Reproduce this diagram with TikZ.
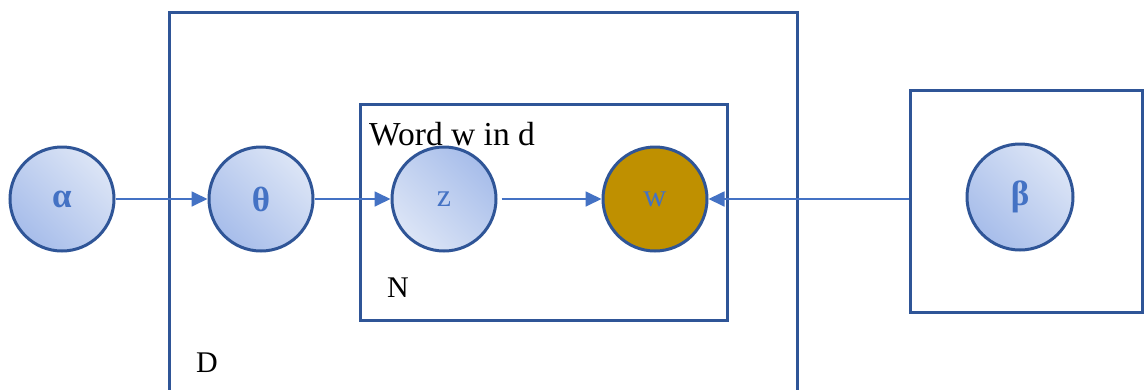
\documentclass[tikz,border=0pt]{standalone}
\usepackage{fontspec}
\setmainfont{Liberation Serif}
\usetikzlibrary{arrows.meta}
\definecolor{boxblue}{HTML}{2F5597}
\definecolor{arrblue}{HTML}{4472C4}
\definecolor{lightfill}{HTML}{DCE5F6}
\definecolor{darkfill}{HTML}{A7BDEA}
\definecolor{gold}{HTML}{BF9000}
\tikzset{
  plate/.style={draw=boxblue, line width=3pt},
  var/.style={circle, draw=boxblue, line width=3pt, minimum size=104pt, inner sep=0pt,
    text=arrblue, font=\fontsize{35}{38}\selectfont\bfseries},
  litevar/.style={var, shading=axis, top color=lightfill, bottom color=darkfill, shading angle=-45},
  revvar/.style={var, shading=axis, top color=darkfill, bottom color=lightfill, shading angle=-45},
  obsvar/.style={var, fill=gold, font=\fontsize{32}{36}\selectfont},
  conn/.style={draw=arrblue, line width=1.8pt, -{Triangle[length=16pt,width=15pt]}},
  lbl/.style={inner sep=0pt, anchor=base west, text=black}
}
\begin{document}
\begin{tikzpicture}[x=1pt,y=-1pt]
\useasboundingbox (0,0) rectangle (1144,389);
% outer D plate (open at bottom)
\draw[plate] (169,395) -- (169,12.5) -- (797,12.5) -- (797,395);
% inner N plate
\node[plate, minimum width=367pt, minimum height=216pt, inner sep=0pt] (nplate) at (543.5,212) {};
% beta plate
\node[plate, minimum width=232pt, minimum height=222pt, inner sep=0pt] (bplate) at (1026,201) {};
% labels
\node[lbl, font=\fontsize{33.5}{38}\selectfont] (wordlbl) at (369,145) {Word w in d};
\node[lbl, font=\fontsize{30}{34}\selectfont] (nlbl) at (387,297) {N};
\node[lbl, font=\fontsize{30}{34}\selectfont] (dlbl) at (196,372) {D};
% variables
\node[litevar] (alpha) at (62,199) {α};
\node[litevar] (theta) at (261,199) {θ};
\node[revvar, font=\fontsize{32}{36}\selectfont] (z) at (444,199) {z};
\node[obsvar] (w) at (655,199) {w};
\node[litevar, minimum size=106pt] (beta) at (1020,197) {β};
% connectors
\coordinate (bin) at (bplate.west |- w.east);
\draw[conn] (alpha.east) -- (theta.west);
\draw[conn] (theta.east) -- (z.west);
\draw[conn, shorten <=4pt] (z.east) -- (w.west);
\draw[conn] (bin) -- (w.east);
\end{tikzpicture}
\end{document}
